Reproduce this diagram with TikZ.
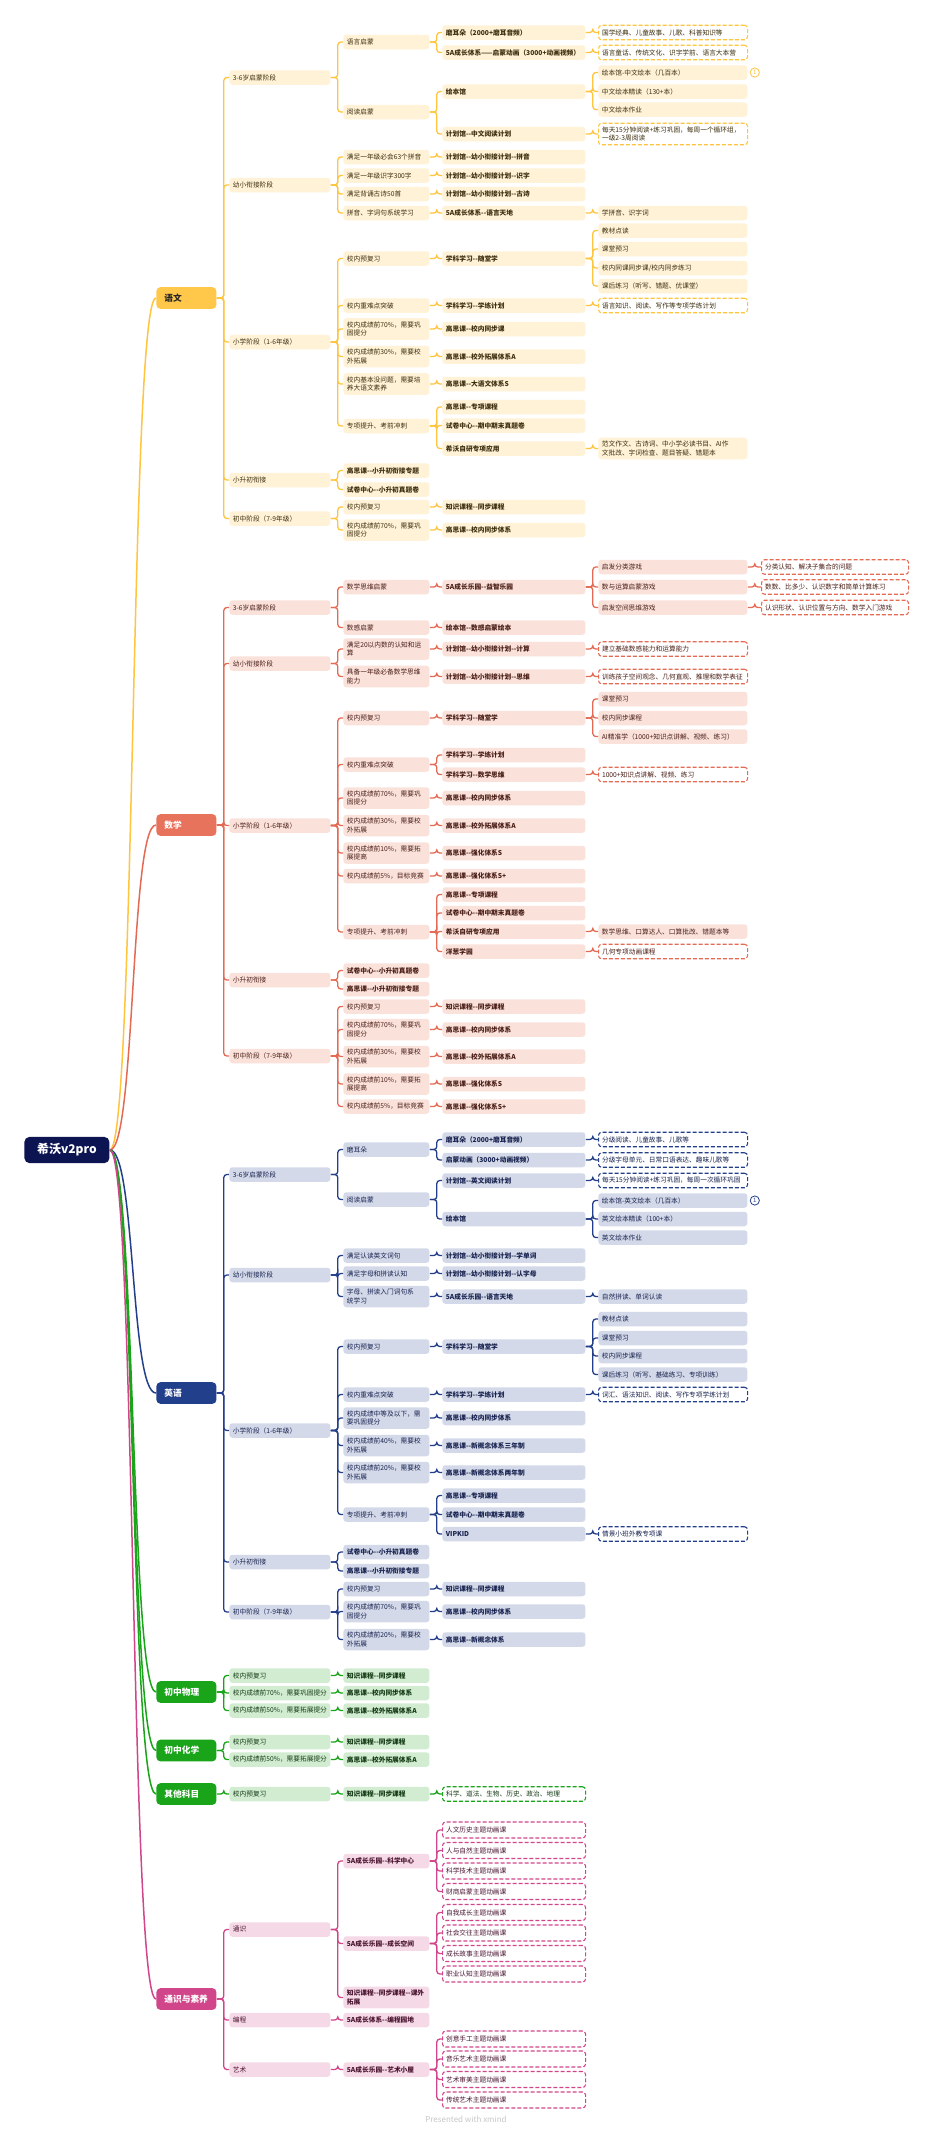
\documentclass[tikz,border=0pt]{standalone}
\usepackage{fontspec}
\newfontfamily\cjk{Noto Sans CJK SC}
\usetikzlibrary{positioning}

\definecolor{rootc}{HTML}{0D1452}
\definecolor{ywM}{HTML}{FFC84B}
\definecolor{ywF}{HTML}{FFF2D6}
\definecolor{ywL}{HTML}{FFC53F}
\definecolor{ywT}{HTML}{3D2F0E}
\definecolor{sxM}{HTML}{E8735C}
\definecolor{sxF}{HTML}{FAE2DB}
\definecolor{sxL}{HTML}{E46A53}
\definecolor{sxT}{HTML}{4A1E16}
\definecolor{yyM}{HTML}{223F8B}
\definecolor{yyF}{HTML}{D3D9E8}
\definecolor{yyL}{HTML}{243F8A}
\definecolor{yyT}{HTML}{17224F}
\definecolor{lvM}{HTML}{1AA41A}
\definecolor{lvF}{HTML}{D1ECD1}
\definecolor{lvL}{HTML}{1AA41A}
\definecolor{lvT}{HTML}{143A14}
\definecolor{tsM}{HTML}{D1468B}
\definecolor{tsF}{HTML}{F5D9E6}
\definecolor{tsL}{HTML}{D1468B}
\definecolor{tsT}{HTML}{4A1430}

\tikzset{
  bx/.style={rounded corners=1.5pt, inner xsep=1.75pt, inner ysep=1.7pt,
    minimum height=7.25pt, align=left, anchor=west,
    font=\cjk\fontsize{3.35}{4.25}\selectfont},
  pr/.style={font=\cjk\bfseries\fontsize{3.35}{4.25}\selectfont},
  cA/.style={bx, text width=47pt},
  cB/.style={bx, text width=39.5pt},
  cC/.style={bx, text width=68pt},
  cD/.style={bx, text width=71pt},
  cE/.style={bx, text width=70pt},
  subj/.style={rounded corners=2pt, anchor=west, text width=22pt, inner xsep=4pt,
    minimum height=10pt, align=left, font=\cjk\bfseries\fontsize{4.35}{5}\selectfont},
  rootbox/.style={fill=rootc, text=white, rounded corners=2.5pt, anchor=west,
    minimum width=42.5pt, minimum height=12.5pt, font=\cjk\bfseries\fontsize{6}{7}\selectfont},
  dsh/.style={fill=white, line width=0.55pt, dash pattern=on 2pt off 1pt},
  lnk/.style={line width=0.65pt, rounded corners=1.5pt},
  mk/.style={circle, draw=#1, text=#1, line width=0.4pt, inner sep=0pt,
    minimum size=4.6pt, font=\cjk\fontsize{3}{3}\selectfont},
  % yellow
  ym/.style={subj, fill=ywM, text=black!85},
  yf/.style={fill=ywF, text=ywT},
  yd/.style={dsh, draw=ywL, text=ywT},
  yl/.style={lnk, draw=ywL},
  % salmon
  sm/.style={subj, fill=sxM, text=white},
  sf/.style={fill=sxF, text=sxT},
  sd/.style={dsh, draw=sxL, text=sxT},
  sl/.style={lnk, draw=sxL},
  % navy
  nm/.style={subj, fill=yyM, text=white},
  nf/.style={fill=yyF, text=yyT},
  nd/.style={dsh, draw=yyL, text=yyT},
  nl/.style={lnk, draw=yyL},
  % green
  gm/.style={subj, fill=lvM, text=white},
  gf/.style={fill=lvF, text=lvT},
  gd/.style={dsh, draw=lvL, text=lvT},
  gl/.style={lnk, draw=lvL},
  % pink
  pm/.style={subj, fill=tsM, text=white},
  pf/.style={fill=tsF, text=tsT},
  pd/.style={dsh, draw=tsL, text=tsT, minimum height=8pt},
  pl/.style={lnk, draw=tsL},
}

\begin{document}
\begin{tikzpicture}[x=0.5pt, y=-0.5pt]
  \fill[white] (0,0) rectangle (925,2133);
  \useasboundingbox (0,0) rectangle (925,2133);
  %
  \node[rootbox] (root) at (24,1150) {希沃v2pro};              % root
  %
  % ---- 语文
  \node[ym] (yw) at (156,298) {语文};
  \node[cA,yf] (yw1) at (229,77.5) {3-6岁启蒙阶段};
  \node[cB,yf] (yw1a) at (343,42) {语言启蒙};
  \node[cC,yf,pr] (yw1a1) at (442,32.5) {磨耳朵（2000+磨耳音频）};
  \node[cD,yd] (yw1a1x) at (598,32.5) {国学经典、儿童故事、儿歌、科普知识等};
  \node[cC,yf,pr] (yw1a2) at (442,52.5) {5A成长体系——启蒙动画（3000+动画视频）};
  \node[cD,yd] (yw1a2x) at (598,52.5) {语言童话、传统文化、识字学前、语言大本营};
  \node[cB,yf] (yw1b) at (343,112) {阅读启蒙};
  \node[cC,yf,pr] (yw1b1) at (442,91.5) {绘本馆};
  \node[cD,yf] (yw1b1a) at (598,72.5) {绘本馆-中文绘本（几百本）};
  \node[mk=ywL, right=1pt of yw1b1a] (yw1b1m) {1};
  \node[cD,yf] (yw1b1b) at (598,91.5) {中文绘本精读（130+本）};
  \node[cD,yf] (yw1b1c) at (598,109.5) {中文绘本作业};
  \node[cC,yf,pr] (yw1b2) at (442,134) {计划馆--中文阅读计划};
  \node[cD,yd] (yw1b2x) at (598,134) {每天15分钟阅读+练习巩固，每周一个循环组，\\一级2-3周阅读};
  %
  \node[cA,yf] (yw2) at (229,185) {幼小衔接阶段};
  \node[cB,yf] (yw2a) at (343,157) {满足一年级必会63个拼音};
  \node[cC,yf,pr] (yw2a1) at (442,157) {计划馆--幼小衔接计划--拼音};
  \node[cB,yf] (yw2b) at (343,175.5) {满足一年级识字300字};
  \node[cC,yf,pr] (yw2b1) at (442,175.5) {计划馆--幼小衔接计划--识字};
  \node[cB,yf] (yw2c) at (343,194) {满足背诵古诗50首};
  \node[cC,yf,pr] (yw2c1) at (442,194) {计划馆--幼小衔接计划--古诗};
  \node[cB,yf] (yw2d) at (343,213) {拼音、字词句系统学习};
  \node[cC,yf,pr] (yw2d1) at (442,213) {5A成长体系--语言天地};
  \node[cD,yf] (yw2d1x) at (598,213) {学拼音、识字词};
  %
  \node[cA,yf] (yw3) at (229,342) {小学阶段（1-6年级）};
  \node[cB,yf] (yw3a) at (343,258.5) {校内预复习};
  \node[cC,yf,pr] (yw3a1) at (442,258.5) {学科学习--随堂学};
  \node[cD,yf] (yw3a1a) at (598,230.5) {教材点读};
  \node[cD,yf] (yw3a1b) at (598,249) {课堂预习};
  \node[cD,yf] (yw3a1c) at (598,268) {校内同课同步课/校内同步练习};
  \node[cD,yf] (yw3a1d) at (598,286) {课后练习（听写、错题、优课堂）};
  \node[cB,yf] (yw3b) at (343,305.5) {校内重难点突破};
  \node[cC,yf,pr] (yw3b1) at (442,305.5) {学科学习--学练计划};
  \node[cD,yd] (yw3b1x) at (598,305.5) {语言知识、阅读、写作等专项学练计划};
  \node[cB,yf] (yw3c) at (343,329) {校内成绩前70\%，需要巩\\固提分};
  \node[cC,yf,pr] (yw3c1) at (442,329) {高思课--校内同步课};
  \node[cB,yf] (yw3d) at (343,356.5) {校内成绩前30\%，需要校\\外拓展};
  \node[cC,yf,pr] (yw3d1) at (442,356.5) {高思课--校外拓展体系A};
  \node[cB,yf] (yw3e) at (343,384) {校内基本没问题，需要培\\养大语文素养};
  \node[cC,yf,pr] (yw3e1) at (442,384) {高思课--大语文体系S};
  \node[cB,yf] (yw3f) at (343,426) {专项提升、考前冲刺};
  \node[cC,yf,pr] (yw3f1) at (442,407) {高思课--专项课程};
  \node[cC,yf,pr] (yw3f2) at (442,425.5) {试卷中心--期中期末真题卷};
  \node[cC,yf,pr] (yw3f3) at (442,448.5) {希沃自研专项应用};
  \node[cD,yf] (yw3f3x) at (598,448.5) {范文作文、古诗词、中小学必读书目、AI作\\文批改、字词检查、题目答疑、错题本};
  %
  \node[cA,yf] (yw4) at (229,480) {小升初衔接};
  \node[cB,yf,pr] (yw4a) at (343,470.5) {高思课--小升初衔接专题};
  \node[cB,yf,pr] (yw4b) at (343,489.5) {试卷中心--小升初真题卷};
  \node[cA,yf] (yw5) at (229,518.5) {初中阶段（7-9年级）};
  \node[cB,yf] (yw5a) at (343,507) {校内预复习};
  \node[cC,yf,pr] (yw5a1) at (442,507) {知识课程--同步课程};
  \node[cB,yf] (yw5b) at (343,530) {校内成绩前70\%，需要巩\\固提分};
  \node[cC,yf,pr] (yw5b1) at (442,530) {高思课--校内同步体系};
  %
  % ---- 数学
  \node[sm] (sx) at (156,825) {数学};
  \node[cA,sf] (sx1) at (229,607.5) {3-6岁启蒙阶段};
  \node[cB,sf] (sx1a) at (343,587) {数学思维启蒙};
  \node[cC,sf,pr] (sx1a1) at (442,587) {5A成长乐园--益智乐园};
  \node[cD,sf] (sx1a1a) at (598,567) {启发分类游戏};
  \node[cD,sf] (sx1a1b) at (598,587) {数与运算启蒙游戏};
  \node[cD,sf] (sx1a1c) at (598,607.5) {启发空间思维游戏};
  \node[cE,sd] (sx1a1ax) at (761,567) {分类认知、解决子集合的问题};
  \node[cE,sd] (sx1a1bx) at (761,587) {数数、比多少、认识数字和简单计算练习};
  \node[cE,sd] (sx1a1cx) at (761,607.5) {认识形状、认识位置与方向、数学入门游戏};
  \node[cB,sf] (sx1b) at (343,627.5) {数感启蒙};
  \node[cC,sf,pr] (sx1b1) at (442,627.5) {绘本馆--数感启蒙绘本};
  %
  \node[cA,sf] (sx2) at (229,663.5) {幼小衔接阶段};
  \node[cB,sf] (sx2a) at (343,649) {满足20以内数的认知和运\\算};
  \node[cC,sf,pr] (sx2a1) at (442,649) {计划馆--幼小衔接计划--计算};
  \node[cD,sd] (sx2a1x) at (598,649) {建立基础数感能力和运算能力};
  \node[cB,sf] (sx2b) at (343,676.5) {具备一年级必备数学思维\\能力};
  \node[cC,sf,pr] (sx2b1) at (442,676.5) {计划馆--幼小衔接计划--思维};
  \node[cD,sd] (sx2b1x) at (598,676.5) {训练孩子空间观念、几何直观、推理和数学表征};
  %
  \node[cA,sf] (sx3) at (229,825.5) {小学阶段（1-6年级）};
  \node[cB,sf] (sx3a) at (343,718) {校内预复习};
  \node[cC,sf,pr] (sx3a1) at (442,718) {学科学习--随堂学};
  \node[cD,sf] (sx3a1a) at (598,699) {课堂预习};
  \node[cD,sf] (sx3a1b) at (598,718) {校内同步课程};
  \node[cD,sf] (sx3a1c) at (598,736.5) {AI精准学（1000+知识点讲解、视频、练习）};
  \node[cB,sf] (sx3b) at (343,764.5) {校内重难点突破};
  \node[cC,sf,pr] (sx3b1) at (442,755) {学科学习--学练计划};
  \node[cC,sf,pr] (sx3b2) at (442,774.5) {学科学习--数学思维};
  \node[cD,sd] (sx3b2x) at (598,774.5) {1000+知识点讲解、视频、练习};
  \node[cB,sf] (sx3c) at (343,798) {校内成绩前70\%，需要巩\\固提分};
  \node[cC,sf,pr] (sx3c1) at (442,798) {高思课--校内同步体系};
  \node[cB,sf] (sx3d) at (343,825.5) {校内成绩前30\%，需要校\\外拓展};
  \node[cC,sf,pr] (sx3d1) at (442,825.5) {高思课--校外拓展体系A};
  \node[cB,sf] (sx3e) at (343,853) {校内成绩前10\%，需要拓\\展提高};
  \node[cC,sf,pr] (sx3e1) at (442,853) {高思课--强化体系S};
  \node[cB,sf] (sx3f) at (343,876) {校内成绩前5\%，目标竞赛};
  \node[cC,sf,pr] (sx3f1) at (442,876) {高思课--强化体系S+};
  \node[cB,sf] (sx3g) at (343,932) {专项提升、考前冲刺};
  \node[cC,sf,pr] (sx3g1) at (442,894.5) {高思课--专项课程};
  \node[cC,sf,pr] (sx3g2) at (442,913) {试卷中心--期中期末真题卷};
  \node[cC,sf,pr] (sx3g3) at (442,931.5) {希沃自研专项应用};
  \node[cD,sf] (sx3g3x) at (598,931.5) {数学思维、口算达人、口算批改、错题本等};
  \node[cC,sf,pr] (sx3g4) at (442,951.5) {洋葱学园};
  \node[cD,sd] (sx3g4x) at (598,951.5) {几何专项动画课程};
  %
  \node[cA,sf] (sx4) at (229,980) {小升初衔接};
  \node[cB,sf,pr] (sx4a) at (343,970.5) {试卷中心--小升初真题卷};
  \node[cB,sf,pr] (sx4b) at (343,989) {高思课--小升初衔接专题};
  \node[cA,sf] (sx5) at (229,1056) {初中阶段（7-9年级）};
  \node[cB,sf] (sx5a) at (343,1006.5) {校内预复习};
  \node[cC,sf,pr] (sx5a1) at (442,1006.5) {知识课程--同步课程};
  \node[cB,sf] (sx5b) at (343,1029.5) {校内成绩前70\%，需要巩\\固提分};
  \node[cC,sf,pr] (sx5b1) at (442,1029.5) {高思课--校内同步体系};
  \node[cB,sf] (sx5c) at (343,1056.5) {校内成绩前30\%，需要校\\外拓展};
  \node[cC,sf,pr] (sx5c1) at (442,1056.5) {高思课--校外拓展体系A};
  \node[cB,sf] (sx5d) at (343,1084) {校内成绩前10\%，需要拓\\展提高};
  \node[cC,sf,pr] (sx5d1) at (442,1084) {高思课--强化体系S};
  \node[cB,sf] (sx5e) at (343,1106.5) {校内成绩前5\%，目标竞赛};
  \node[cC,sf,pr] (sx5e1) at (442,1106.5) {高思课--强化体系S+};
  %
  % ---- 英语
  \node[nm] (yy) at (156,1393) {英语};
  \node[cA,nf] (yy1) at (229,1174.5) {3-6岁启蒙阶段};
  \node[cB,nf] (yy1a) at (343,1149.5) {磨耳朵};
  \node[cC,nf,pr] (yy1a1) at (442,1139.5) {磨耳朵（2000+磨耳音频）};
  \node[cD,nd] (yy1a1x) at (598,1139.5) {分级阅读、儿童故事、儿歌等};
  \node[cC,nf,pr] (yy1a2) at (442,1160) {启蒙动画（3000+动画视频）};
  \node[cD,nd] (yy1a2x) at (598,1160) {分级字母单元、日常口语表达、趣味儿歌等};
  \node[cB,nf] (yy1b) at (343,1199.5) {阅读启蒙};
  \node[cC,nf,pr] (yy1b1) at (442,1180.5) {计划馆--英文阅读计划};
  \node[cD,nd] (yy1b1x) at (598,1180.5) {每天15分钟阅读+练习巩固，每周一次循环巩固};
  \node[cC,nf,pr] (yy1b2) at (442,1219) {绘本馆};
  \node[cD,nf] (yy1b2a) at (598,1200.5) {绘本馆-英文绘本（几百本）};
  \node[mk=yyL, right=1pt of yy1b2a] (yy1b2m) {1};
  \node[cD,nf] (yy1b2b) at (598,1219) {英文绘本精读（100+本）};
  \node[cD,nf] (yy1b2c) at (598,1237.5) {英文绘本作业};
  %
  \node[cA,nf] (yy2) at (229,1275) {幼小衔接阶段};
  \node[cB,nf] (yy2a) at (343,1255.5) {满足认读英文词句};
  \node[cC,nf,pr] (yy2a1) at (442,1255.5) {计划馆--幼小衔接计划--学单词};
  \node[cB,nf] (yy2b) at (343,1273.5) {满足字母和拼读认知};
  \node[cC,nf,pr] (yy2b1) at (442,1273.5) {计划馆--幼小衔接计划--认字母};
  \node[cB,nf] (yy2c) at (343,1296.5) {字母、拼读入门词句系\\统学习};
  \node[cC,nf,pr] (yy2c1) at (442,1296.5) {5A成长乐园--语言天地};
  \node[cD,nf] (yy2c1x) at (598,1296.5) {自然拼读、单词认读};
  %
  \node[cA,nf] (yy3) at (229,1430.5) {小学阶段（1-6年级）};
  \node[cB,nf] (yy3a) at (343,1346.5) {校内预复习};
  \node[cC,nf,pr] (yy3a1) at (442,1346.5) {学科学习--随堂学};
  \node[cD,nf] (yy3a1a) at (598,1319) {教材点读};
  \node[cD,nf] (yy3a1b) at (598,1338) {课堂预习};
  \node[cD,nf] (yy3a1c) at (598,1356) {校内同步课程};
  \node[cD,nf] (yy3a1d) at (598,1374.5) {课后练习（听写、基础练习、专项训练）};
  \node[cB,nf] (yy3b) at (343,1394.5) {校内重难点突破};
  \node[cC,nf,pr] (yy3b1) at (442,1394.5) {学科学习--学练计划};
  \node[cD,nd] (yy3b1x) at (598,1394.5) {词汇、语法知识、阅读、写作专项学练计划};
  \node[cB,nf] (yy3c) at (343,1418) {校内成绩中等及以下，需\\要巩固提分};
  \node[cC,nf,pr] (yy3c1) at (442,1418) {高思课--校内同步体系};
  \node[cB,nf] (yy3d) at (343,1445.5) {校内成绩前40\%，需要校\\外拓展};
  \node[cC,nf,pr] (yy3d1) at (442,1445.5) {高思课--新概念体系三年制};
  \node[cB,nf] (yy3e) at (343,1472.5) {校内成绩前20\%，需要校\\外拓展};
  \node[cC,nf,pr] (yy3e1) at (442,1472.5) {高思课--新概念体系两年制};
  \node[cB,nf] (yy3f) at (343,1514.5) {专项提升、考前冲刺};
  \node[cC,nf,pr] (yy3f1) at (442,1495.5) {高思课--专项课程};
  \node[cC,nf,pr] (yy3f2) at (442,1514.5) {试卷中心--期中期末真题卷};
  \node[cC,nf,pr] (yy3f3) at (442,1534) {VIPKID};
  \node[cD,nd] (yy3f3x) at (598,1534) {情景小班外教专项课};
  %
  \node[cA,nf] (yy4) at (229,1562) {小升初衔接};
  \node[cB,nf,pr] (yy4a) at (343,1552) {试卷中心--小升初真题卷};
  \node[cB,nf,pr] (yy4b) at (343,1571) {高思课--小升初衔接专题};
  \node[cA,nf] (yy5) at (229,1612) {初中阶段（7-9年级）};
  \node[cB,nf] (yy5a) at (343,1589) {校内预复习};
  \node[cC,nf,pr] (yy5a1) at (442,1589) {知识课程--同步课程};
  \node[cB,nf] (yy5b) at (343,1611.5) {校内成绩前70\%，需要巩\\固提分};
  \node[cC,nf,pr] (yy5b1) at (442,1611.5) {高思课--校内同步体系};
  \node[cB,nf] (yy5c) at (343,1639.5) {校内成绩前20\%，需要校\\外拓展};
  \node[cC,nf,pr] (yy5c1) at (442,1639.5) {高思课--新概念体系};
  %
  % ---- 初中物理 / 初中化学 / 其他科目
  \node[gm] (wl) at (156,1692) {初中物理};
  \node[cA,gf] (wl1) at (229,1675.5) {校内预复习};
  \node[cB,gf,pr] (wl1a) at (343,1675.5) {知识课程--同步课程};
  \node[cA,gf] (wl2) at (229,1693) {校内成绩前70\%，需要巩固提分};
  \node[cB,gf,pr] (wl2a) at (343,1693) {高思课--校内同步体系};
  \node[cA,gf] (wl3) at (229,1710.5) {校内成绩前50\%，需要拓展提分};
  \node[cB,gf,pr] (wl3a) at (343,1710.5) {高思课--校外拓展体系A};
  \node[gm] (hx) at (156,1750.5) {初中化学};
  \node[cA,gf] (hx1) at (229,1742) {校内预复习};
  \node[cB,gf,pr] (hx1a) at (343,1742) {知识课程--同步课程};
  \node[cA,gf] (hx2) at (229,1759.5) {校内成绩前50\%，需要拓展提分};
  \node[cB,gf,pr] (hx2a) at (343,1759.5) {高思课--校外拓展体系A};
  \node[gm] (qt) at (156,1794) {其他科目};
  \node[cA,gf] (qt1) at (229,1794) {校内预复习};
  \node[cB,gf,pr] (qt1a) at (343,1794) {知识课程--同步课程};
  \node[cC,gd] (qt1ax) at (442,1794) {科学、道法、生物、历史、政治、地理};
  %
  % ---- 通识与素养
  \node[pm] (ts) at (156,1999) {通识与素养};
  \node[cA,pf] (ts1) at (229,1929.5) {通识};
  \node[cB,pf,pr] (ts1a) at (343,1861) {5A成长乐园--科学中心};
  \node[cC,pd] (ts1a1) at (442,1830) {人文历史主题动画课};
  \node[cC,pd] (ts1a2) at (442,1850.5) {人与自然主题动画课};
  \node[cC,pd] (ts1a3) at (442,1871) {科学技术主题动画课};
  \node[cC,pd] (ts1a4) at (442,1891.5) {财商启蒙主题动画课};
  \node[cB,pf,pr] (ts1b) at (343,1943.5) {5A成长乐园--成长空间};
  \node[cC,pd] (ts1b1) at (442,1912.5) {自我成长主题动画课};
  \node[cC,pd] (ts1b2) at (442,1933) {社会交往主题动画课};
  \node[cC,pd] (ts1b3) at (442,1953.5) {成长故事主题动画课};
  \node[cC,pd] (ts1b4) at (442,1974) {职业认知主题动画课};
  \node[cB,pf,pr] (ts1c) at (343,1997.5) {知识课程--同步课程--课外\\拓展};
  \node[cA,pf] (ts2) at (229,2020) {编程};
  \node[cB,pf,pr] (ts2a) at (343,2020) {5A成长体系--编程园地};
  \node[cA,pf] (ts3) at (229,2069.5) {艺术};
  \node[cB,pf,pr] (ts3a) at (343,2069.5) {5A成长乐园--艺术小屋};
  \node[cC,pd] (ts3a1) at (442,2039) {创意手工主题动画课};
  \node[cC,pd] (ts3a2) at (442,2059) {音乐艺术主题动画课};
  \node[cC,pd] (ts3a3) at (442,2079.5) {艺术审美主题动画课};
  \node[cC,pd] (ts3a4) at (442,2100) {传统艺术主题动画课};
  %
  \node[font=\cjk\fontsize{4}{5}\selectfont, text=black!22] (credit) at (466,2119) {Presented with xmind};
  %
  % root links
  \foreach \m/\c in {yw/ywL,sx/sxL,yy/yyL,wl/lvL,hx/lvL,qt/lvL,ts/tsL}
    \draw[\c, line width=0.75pt] (root.east) .. controls +(26,0) and +(-26,0) .. (\m.west);
  %
  % 语文 links
  \foreach \p/\c in {yw/yw1,yw/yw2,yw/yw3,yw/yw4,yw/yw5,
      yw1/yw1a,yw1/yw1b,yw1a/yw1a1,yw1a/yw1a2,yw1a1/yw1a1x,yw1a2/yw1a2x,
      yw1b/yw1b1,yw1b/yw1b2,yw1b1/yw1b1a,yw1b1/yw1b1b,yw1b1/yw1b1c,yw1b2/yw1b2x,
      yw2/yw2a,yw2/yw2b,yw2/yw2c,yw2/yw2d,yw2a/yw2a1,yw2b/yw2b1,yw2c/yw2c1,yw2d/yw2d1,yw2d1/yw2d1x,
      yw3/yw3a,yw3/yw3b,yw3/yw3c,yw3/yw3d,yw3/yw3e,yw3/yw3f,
      yw3a/yw3a1,yw3a1/yw3a1a,yw3a1/yw3a1b,yw3a1/yw3a1c,yw3a1/yw3a1d,
      yw3b/yw3b1,yw3b1/yw3b1x,yw3c/yw3c1,yw3d/yw3d1,yw3e/yw3e1,
      yw3f/yw3f1,yw3f/yw3f2,yw3f/yw3f3,yw3f3/yw3f3x,
      yw4/yw4a,yw4/yw4b,yw5/yw5a,yw5/yw5b,yw5a/yw5a1,yw5b/yw5b1}
    \draw[yl] (\p.east) -- ++(7,0) |- (\c.west);
  %
  % 数学 links
  \foreach \p/\c in {sx/sx1,sx/sx2,sx/sx3,sx/sx4,sx/sx5,
      sx1/sx1a,sx1/sx1b,sx1a/sx1a1,sx1a1/sx1a1a,sx1a1/sx1a1b,sx1a1/sx1a1c,
      sx1a1a/sx1a1ax,sx1a1b/sx1a1bx,sx1a1c/sx1a1cx,sx1b/sx1b1,
      sx2/sx2a,sx2/sx2b,sx2a/sx2a1,sx2a1/sx2a1x,sx2b/sx2b1,sx2b1/sx2b1x,
      sx3/sx3a,sx3/sx3b,sx3/sx3c,sx3/sx3d,sx3/sx3e,sx3/sx3f,sx3/sx3g,
      sx3a/sx3a1,sx3a1/sx3a1a,sx3a1/sx3a1b,sx3a1/sx3a1c,
      sx3b/sx3b1,sx3b/sx3b2,sx3b2/sx3b2x,sx3c/sx3c1,sx3d/sx3d1,sx3e/sx3e1,sx3f/sx3f1,
      sx3g/sx3g1,sx3g/sx3g2,sx3g/sx3g3,sx3g/sx3g4,sx3g3/sx3g3x,sx3g4/sx3g4x,
      sx4/sx4a,sx4/sx4b,
      sx5/sx5a,sx5/sx5b,sx5/sx5c,sx5/sx5d,sx5/sx5e,
      sx5a/sx5a1,sx5b/sx5b1,sx5c/sx5c1,sx5d/sx5d1,sx5e/sx5e1}
    \draw[sl] (\p.east) -- ++(7,0) |- (\c.west);
  %
  % 英语 links
  \foreach \p/\c in {yy/yy1,yy/yy2,yy/yy3,yy/yy4,yy/yy5,
      yy1/yy1a,yy1/yy1b,yy1a/yy1a1,yy1a/yy1a2,yy1a1/yy1a1x,yy1a2/yy1a2x,
      yy1b/yy1b1,yy1b/yy1b2,yy1b1/yy1b1x,yy1b2/yy1b2a,yy1b2/yy1b2b,yy1b2/yy1b2c,
      yy2/yy2a,yy2/yy2b,yy2/yy2c,yy2a/yy2a1,yy2b/yy2b1,yy2c/yy2c1,yy2c1/yy2c1x,
      yy3/yy3a,yy3/yy3b,yy3/yy3c,yy3/yy3d,yy3/yy3e,yy3/yy3f,
      yy3a/yy3a1,yy3a1/yy3a1a,yy3a1/yy3a1b,yy3a1/yy3a1c,yy3a1/yy3a1d,
      yy3b/yy3b1,yy3b1/yy3b1x,yy3c/yy3c1,yy3d/yy3d1,yy3e/yy3e1,
      yy3f/yy3f1,yy3f/yy3f2,yy3f/yy3f3,yy3f3/yy3f3x,
      yy4/yy4a,yy4/yy4b,
      yy5/yy5a,yy5/yy5b,yy5/yy5c,yy5a/yy5a1,yy5b/yy5b1,yy5c/yy5c1}
    \draw[nl] (\p.east) -- ++(7,0) |- (\c.west);
  %
  % 理化 links
  \foreach \p/\c in {wl/wl1,wl/wl2,wl/wl3,wl1/wl1a,wl2/wl2a,wl3/wl3a,
      hx/hx1,hx/hx2,hx1/hx1a,hx2/hx2a,qt/qt1,qt1/qt1a,qt1a/qt1ax}
    \draw[gl] (\p.east) -- ++(7,0) |- (\c.west);
  %
  % 通识 links
  \foreach \p/\c in {ts/ts1,ts/ts2,ts/ts3,ts1/ts1a,ts1/ts1b,ts1/ts1c,
      ts1a/ts1a1,ts1a/ts1a2,ts1a/ts1a3,ts1a/ts1a4,
      ts1b/ts1b1,ts1b/ts1b2,ts1b/ts1b3,ts1b/ts1b4,
      ts2/ts2a,ts3/ts3a,ts3a/ts3a1,ts3a/ts3a2,ts3a/ts3a3,ts3a/ts3a4}
    \draw[pl] (\p.east) -- ++(7,0) |- (\c.west);
\end{tikzpicture}
\end{document}
